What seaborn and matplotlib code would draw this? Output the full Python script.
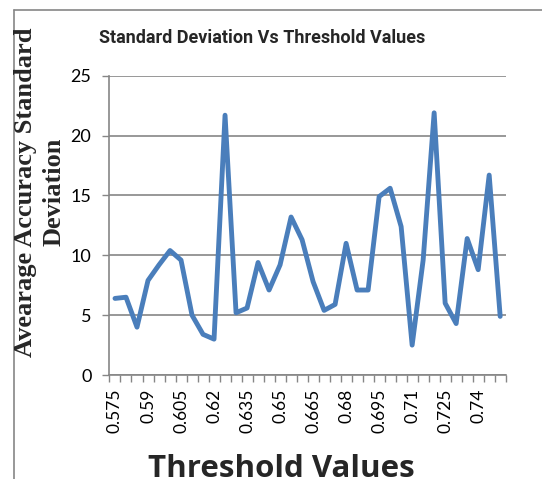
import numpy as np
import pandas as pd
import matplotlib
matplotlib.use("Agg")
import matplotlib.pyplot as plt
from matplotlib.lines import Line2D
from matplotlib.ticker import FixedLocator
import seaborn as sns

# data
thresholds = [0.575, 0.58, 0.585, 0.59, 0.595, 0.60, 0.605, 0.61, 0.615, 0.62,
              0.625, 0.63, 0.635, 0.64, 0.645, 0.65, 0.655, 0.66, 0.665, 0.67,
              0.675, 0.68, 0.685, 0.69, 0.695, 0.70, 0.705, 0.71, 0.715, 0.72,
              0.725, 0.73, 0.735, 0.74, 0.745, 0.75]
std_dev = [6.4, 6.5, 4.0, 7.9, 9.2, 10.4, 9.6, 5.0, 3.4, 3.0,
           21.7, 5.2, 5.6, 9.4, 7.1, 9.2, 13.2, 11.3, 7.8, 5.4,
           5.9, 11.0, 7.1, 7.1, 14.9, 15.6, 12.4, 2.5, 9.6, 21.9,
           6.0, 4.3, 11.4, 8.8, 16.7, 4.9]
label_ticks = thresholds[::3]
tick_text = ["0.575", "0.59", "0.605", "0.62", "0.635", "0.65",
             "0.665", "0.68", "0.695", "0.71", "0.725", "0.74"]

df = pd.DataFrame({"Threshold": thresholds, "StdDev": std_dev})

sns.set_theme(style="white")
plt.rcParams['font.family'] = ['Lato', 'DejaVu Sans']

gray = "#868686"
fig = plt.figure(figsize=(5.42, 4.79), dpi=100)
ax = fig.add_axes([0.202, 0.217, 0.731, 0.625])

sns.lineplot(data=df, x="Threshold", y="StdDev", ax=ax, color="#4A7EBB",
             linewidth=3.5, sort=False, zorder=3)

step = 0.005
ax.set_xlim(thresholds[0] - step / 2, thresholds[-1] + step / 2)
ax.set_ylim(0, 25)
ax.set_yticks([0, 5, 10, 15, 20, 25])
ax.yaxis.grid(True, color=gray, linewidth=1.2)
ax.xaxis.grid(False)

ax.set_xticks(label_ticks)
ax.set_xticklabels(tick_text, rotation=90, fontsize=12.5)
bounds = [t - step / 2 for t in thresholds] + [thresholds[-1] + step / 2]
ax.xaxis.set_minor_locator(FixedLocator(bounds))
ax.tick_params(axis="x", which="major", length=0, pad=10)
ax.tick_params(axis="x", which="minor", length=5, color=gray, width=1, bottom=True)
ax.tick_params(axis="y", length=5, color=gray, width=1, left=True, labelsize=13, pad=8)
for lab in ax.get_yticklabels() + ax.get_xticklabels():
    lab.set_color("black")

for side in ["top", "right"]:
    ax.spines[side].set_visible(False)
for side in ["left", "bottom"]:
    ax.spines[side].set_color(gray)
    ax.spines[side].set_linewidth(1.2)

ax.set_xlabel("")
ax.set_ylabel("")

fig.text(0.483, 0.921, "Standard Deviation Vs Threshold Values",
         ha="center", va="center", fontsize=13, fontweight="bold",
         family=["Roboto", "DejaVu Sans"])
fig.text(0.074, 0.599, "Avearage Accuracy Standard\nDeviation", rotation=90,
         ha="center", va="center", fontsize=19, fontweight="bold",
         linespacing=1.3, family=["Liberation Serif", "DejaVu Serif"])
fig.text(0.52, 0.004, "Threshold Values", ha="center", va="baseline",
         fontsize=22.5, fontweight="bold", family=["Open Sans", "DejaVu Sans"])

# outer chart frame
fig.add_artist(Line2D([0.026, 0.026], [0, 0.979], color=gray, linewidth=1.2))
fig.add_artist(Line2D([0.026, 1.0], [0.979, 0.979], color=gray, linewidth=1.2))

fig.savefig("out.png", dpi=100)
